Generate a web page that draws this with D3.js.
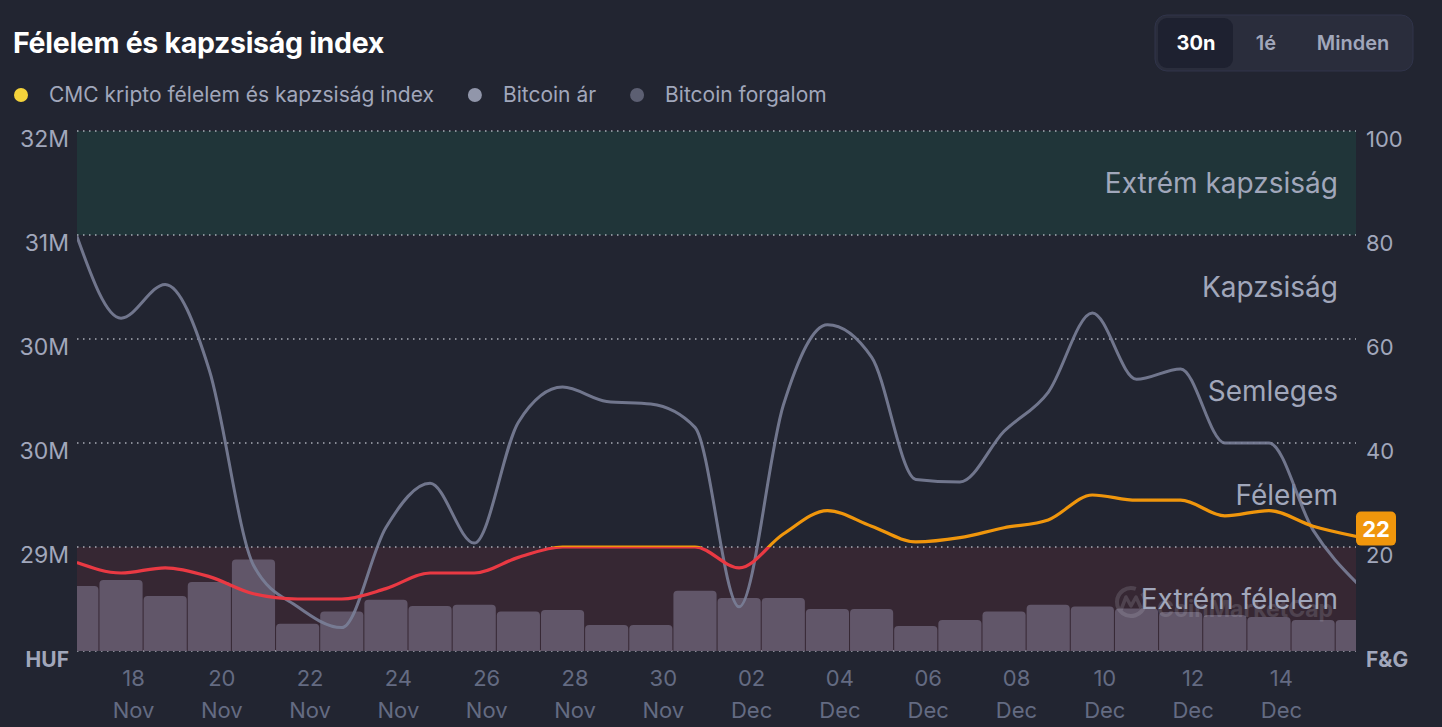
<!DOCTYPE html>
<html>
<head>
<meta charset="utf-8">
<script src="https://cdn.jsdelivr.net/npm/d3@7/dist/d3.min.js"></script>
<style>
  body { margin: 0; background: #222531; overflow: hidden; }
  svg { display: block; font-family: Inter, "Noto Sans", sans-serif; }
</style>
</head>
<body>
<svg id="chart" width="1442" height="727"></svg>
<script>
// ---- data ----
var timestamps = [
  "2025-11-16T17:30Z", "2025-11-17T17:30Z", "2025-11-18T17:30Z", "2025-11-19T17:30Z", "2025-11-20T17:30Z",
  "2025-11-21T17:30Z", "2025-11-22T17:30Z", "2025-11-23T17:30Z", "2025-11-24T17:30Z", "2025-11-25T17:30Z",
  "2025-11-26T17:30Z", "2025-11-27T17:30Z", "2025-11-28T17:30Z", "2025-11-29T17:30Z", "2025-11-30T17:30Z",
  "2025-12-01T17:30Z", "2025-12-02T17:30Z", "2025-12-03T17:30Z", "2025-12-04T17:30Z", "2025-12-05T17:30Z",
  "2025-12-06T17:30Z", "2025-12-07T17:30Z", "2025-12-08T17:30Z", "2025-12-09T17:30Z", "2025-12-10T17:30Z",
  "2025-12-11T17:30Z", "2025-12-12T17:30Z", "2025-12-13T17:30Z", "2025-12-14T17:30Z", "2025-12-15T17:30Z"
];
var fearGreed = [17, 15, 16, 14.3, 11, 10, 10, 12, 15, 15, 18, 20, 20, 20, 20,
                 16, 22.5, 27, 24, 21, 21.8, 23.7, 25.2, 30, 29, 29, 26, 27, 24, 22];
// HUF
var btcPrice = [31.19e6, 30.56e6, 30.82e6, 30.16e6, 28.66e6, 28.34e6, 28.18e6, 28.95e6, 29.29e6, 28.83e6,
                29.76e6, 30.03e6, 29.92e6, 29.90e6, 29.72e6, 28.34e6, 29.89e6, 30.51e6, 30.26e6, 29.32e6,
                29.30e6, 29.69e6, 29.99e6, 30.60e6, 30.09e6, 30.17e6, 29.60e6, 29.60e6, 28.93e6, 28.52e6];
// trillion HUF
var btcVolume = [7.5, 8.2, 6.35, 7.96, 10.56, 3.15, 4.56, 5.92, 5.19, 5.35,
                 4.56, 4.73, 3.0, 3.0, 6.95, 6.12, 6.12, 4.85, 4.85, 2.88,
                 3.58, 4.56, 5.35, 5.13, 4.9, 4.5, 4.15, 3.92, 3.58, 3.58];

var zoneNames = ["Extrém félelem", "Félelem", "Semleges", "Kapzsiság", "Extrém kapzsiság"];
var zoneLimits = [0, 20, 40, 60, 80, 100];
var priceTicks = [32e6, 31.2e6, 30.4e6, 29.6e6, 28.8e6];
var fgTicks = [100, 80, 60, 40, 20];
var xTickDates = ["2025-11-18", "2025-11-20", "2025-11-22", "2025-11-24", "2025-11-26", "2025-11-28", "2025-11-30",
                  "2025-12-02", "2025-12-04", "2025-12-06", "2025-12-08", "2025-12-10", "2025-12-12", "2025-12-14"];
var legendItems = [
  {label: "CMC kripto félelem és kapzsiság index", color: "#f4d33b"},
  {label: "Bitcoin ár", color: "#9196aa"},
  {label: "Bitcoin forgalom", color: "#5c5f72"}
];
var rangeButtons = ["30n", "1é", "Minden"];

// ---- layout ----
var plot = {left: 77, right: 1356, top: 131, bottom: 651};
var colors = {
  bg: "#222531", text: "#a1a7bb", axisX: "#646b82",
  orange: "#f0960c", red: "#ea3943", price: "#7a8098", bar: "#615669"
};

var svg = d3.select("#chart");
svg.append("rect").attr("width", 1442).attr("height", 727).attr("fill", colors.bg);

var data = timestamps.map(function (t, i) {
  return {date: new Date(t), fg: fearGreed[i], price: btcPrice[i], vol: btcVolume[i]};
});

var x = d3.scaleUtc()
  .domain([new Date("2025-11-16T17:34Z"), new Date("2025-12-15T16:49Z")])
  .range([plot.left, plot.right]);
var yFG = d3.scaleLinear().domain([0, 100]).range([plot.bottom, plot.top]);
var yPrice = d3.scaleLinear().domain([28e6, 32e6]).range([plot.bottom, plot.top]);
var yVol = d3.scaleLinear().domain([0, 60]).range([plot.bottom, plot.top]);

svg.append("defs").append("clipPath").attr("id", "plotClip")
  .append("rect").attr("x", plot.left).attr("y", plot.top - 10)
  .attr("width", plot.right - plot.left).attr("height", plot.bottom - plot.top + 10);

// ---- zone bands ----
var bands = svg.append("g").attr("class", "bands");
bands.append("rect")
  .attr("x", plot.left).attr("width", plot.right - plot.left)
  .attr("y", yFG(100)).attr("height", yFG(80) - yFG(100))
  .attr("fill", "#16c784").attr("fill-opacity", 0.1);
bands.append("rect")
  .attr("x", plot.left).attr("width", plot.right - plot.left)
  .attr("y", yFG(20)).attr("height", yFG(0) - yFG(20))
  .attr("fill", "#ea3943").attr("fill-opacity", 0.1);

// ---- dotted grid ----
svg.append("g").selectAll("line").data(zoneLimits).join("line")
  .attr("x1", plot.left).attr("x2", plot.right)
  .attr("y1", function (d) { return yFG(d); }).attr("y2", function (d) { return yFG(d); })
  .attr("stroke", "#d5d8e2").attr("stroke-opacity", 0.75)
  .attr("stroke-width", 1.5).attr("stroke-dasharray", "1.5,4.5");

// ---- volume bars ----
var dayPx = x(new Date("2025-11-19T00:00Z")) - x(new Date("2025-11-18T00:00Z"));
function topRounded(cx, w, yTop, yBot, r) {
  var x0 = cx - w / 2, x1 = cx + w / 2;
  return "M" + x0 + "," + yBot + "V" + (yTop + r) + "Q" + x0 + "," + yTop + " " + (x0 + r) + "," + yTop +
    "H" + (x1 - r) + "Q" + x1 + "," + yTop + " " + x1 + "," + (yTop + r) + "V" + yBot + "Z";
}
svg.append("g").attr("clip-path", "url(#plotClip)")
  .selectAll("path").data(data).join("path")
  .attr("d", function (d) { return topRounded(x(d.date), dayPx - 1, yVol(d.vol), plot.bottom, 4); })
  .attr("fill", colors.bar);

// ---- watermark ----
var wm = svg.append("g").attr("opacity", 0.16).attr("fill", "none").attr("stroke", "#d0d4e0");
wm.append("path")
  .attr("d", d3.arc()({innerRadius: 14, outerRadius: 14, startAngle: 0.9, endAngle: 2 * Math.PI + 0.35}))
  .attr("transform", "translate(1131,602)").attr("stroke-width", 4);
wm.append("path").attr("d", "M1121,610 L1126,597 L1131,606 L1136,597 L1141,608")
  .attr("stroke-width", 3.5).attr("stroke-linejoin", "round");
wm.append("text").attr("x", 1157).attr("y", 609).attr("dy", "0.35em").attr("stroke", "none")
  .attr("font-size", 23).attr("font-weight", 700).attr("fill", "#d0d4e0").text("CoinMarketCap");

// ---- zone labels ----
svg.append("g").selectAll("text").data(zoneNames).join("text")
  .attr("x", plot.right - 18)
  .attr("y", function (d, i) { return (yFG(zoneLimits[i]) + yFG(zoneLimits[i + 1])) / 2; })
  .attr("dy", "0.35em")
  .attr("text-anchor", "end")
  .attr("font-size", 28)
  .attr("fill", colors.text)
  .text(function (d) { return d; });

// ---- price line ----
var priceLine = d3.line()
  .x(function (d) { return x(d.date); })
  .y(function (d) { return yPrice(d.price); })
  .curve(d3.curveMonotoneX);
svg.append("path").datum(data)
  .attr("clip-path", "url(#plotClip)")
  .attr("d", priceLine)
  .attr("fill", "none").attr("stroke", colors.price).attr("stroke-opacity", 0.9)
  .attr("stroke-width", 3);

// ---- fear & greed line ----
var grad = svg.select("defs").append("linearGradient").attr("id", "fgGrad")
  .attr("gradientUnits", "userSpaceOnUse")
  .attr("x1", 0).attr("x2", 0).attr("y1", plot.top).attr("y2", plot.bottom);
var splitOffset = (yFG(20) - plot.top) / (plot.bottom - plot.top);
grad.append("stop").attr("offset", 0).attr("stop-color", colors.orange);
grad.append("stop").attr("offset", splitOffset).attr("stop-color", colors.orange);
grad.append("stop").attr("offset", splitOffset).attr("stop-color", colors.red);
grad.append("stop").attr("offset", 1).attr("stop-color", colors.red);

var fgLine = d3.line()
  .x(function (d) { return x(d.date); })
  .y(function (d) { return yFG(d.fg); })
  .curve(d3.curveMonotoneX);
svg.append("path").datum(data)
  .attr("clip-path", "url(#plotClip)")
  .attr("d", fgLine)
  .attr("fill", "none").attr("stroke", "url(#fgGrad)")
  .attr("stroke-width", 3.2).attr("stroke-linejoin", "round");

// ---- axes ----
function styleAxis(g) {
  g.select(".domain").remove();
  g.selectAll(".tick line").remove();
  g.selectAll("text").attr("font-family", "Inter, sans-serif");
}
svg.append("g").attr("transform", "translate(" + plot.left + ",0)")
  .call(d3.axisLeft(yPrice).tickValues(priceTicks).tickSize(0).tickPadding(8)
    .tickFormat(function (d) { return Math.round(d / 1e6) + "M"; }))
  .call(styleAxis)
  .call(function (g) {
    g.selectAll("text").attr("font-size", 23).attr("fill", colors.text).attr("y", 8);
  });
svg.append("g").attr("transform", "translate(" + plot.right + ",0)")
  .call(d3.axisRight(yFG).tickValues(fgTicks).tickSize(0).tickPadding(10))
  .call(styleAxis)
  .call(function (g) {
    g.selectAll("text").attr("font-size", 22).attr("fill", colors.text).attr("y", 8);
  });
svg.append("text").attr("x", plot.left - 8).attr("y", plot.bottom + 9).attr("dy", "0.35em")
  .attr("text-anchor", "end").attr("font-size", 21).attr("font-weight", 700)
  .attr("fill", colors.text).text("HUF");
svg.append("text").attr("x", plot.right + 10).attr("y", plot.bottom + 9).attr("dy", "0.35em")
  .attr("font-size", 21).attr("font-weight", 700)
  .attr("fill", colors.text).text("F&G");

var fmtDay = d3.utcFormat("%d"), fmtMon = d3.utcFormat("%b");
svg.append("g").attr("transform", "translate(0," + plot.bottom + ")")
  .call(d3.axisBottom(x).tickValues(xTickDates.map(function (s) { return new Date(s + "T00:00Z"); }))
    .tickSize(0).tickFormat(""))
  .call(styleAxis)
  .call(function (g) {
    g.selectAll(".tick text").each(function (d) {
      var t = d3.select(this).attr("y", 0).attr("dy", null)
        .attr("font-size", 22).attr("fill", colors.axisX);
      t.append("tspan").attr("x", 0).attr("y", 27).attr("dy", "0.35em").text(fmtDay(d));
      t.append("tspan").attr("x", 0).attr("y", 59).attr("dy", "0.35em").text(fmtMon(d));
    });
  });

// ---- current value badge ----
var last = data[data.length - 1];
var badgeY = yFG(last.fg) - 8;
svg.append("rect").attr("x", plot.right).attr("y", badgeY - 17).attr("width", 40).attr("height", 34)
  .attr("rx", 5).attr("fill", colors.orange);
svg.append("text").attr("x", plot.right + 20).attr("y", badgeY).attr("dy", "0.36em")
  .attr("text-anchor", "middle").attr("font-size", 22).attr("font-weight", 700)
  .attr("fill", "#ffffff").text(d3.format("d")(last.fg));

// ---- title ----
svg.append("text").attr("x", 13).attr("y", 43).attr("dy", "0.35em")
  .attr("font-size", 28.5).attr("font-weight", 700).attr("fill", "#ffffff")
  .attr("letter-spacing", -0.3)
  .text("Félelem és kapzsiság index");

// ---- legend ----
var legend = svg.append("g").attr("transform", "translate(0,95)");
var lx = 21;
legendItems.forEach(function (item) {
  legend.append("circle").attr("cx", lx).attr("cy", 0).attr("r", 7).attr("fill", item.color);
  var t = legend.append("text").attr("x", lx + 28).attr("y", 0).attr("dy", "0.35em")
    .attr("font-size", 21).attr("fill", colors.text).text(item.label);
  lx += 28 + t.node().getComputedTextLength() + 41;
});

// ---- range buttons ----
var btn = svg.append("g");
btn.append("rect").attr("x", 1155).attr("y", 15).attr("width", 258).attr("height", 56)
  .attr("rx", 12).attr("fill", "#2a2d3c").attr("stroke", "#30344a").attr("stroke-width", 1);
btn.append("rect").attr("x", 1158).attr("y", 18).attr("width", 75).attr("height", 50)
  .attr("rx", 9).attr("fill", "#1e2130");
var btnX = [1196, 1266, 1353];
rangeButtons.forEach(function (b, i) {
  btn.append("text").attr("x", btnX[i]).attr("y", 43).attr("dy", "0.35em")
    .attr("text-anchor", "middle").attr("font-size", 20)
    .attr("font-weight", i === 0 ? 700 : 600)
    .attr("fill", i === 0 ? "#ffffff" : colors.text).text(b);
});
</script>
</body>
</html>
